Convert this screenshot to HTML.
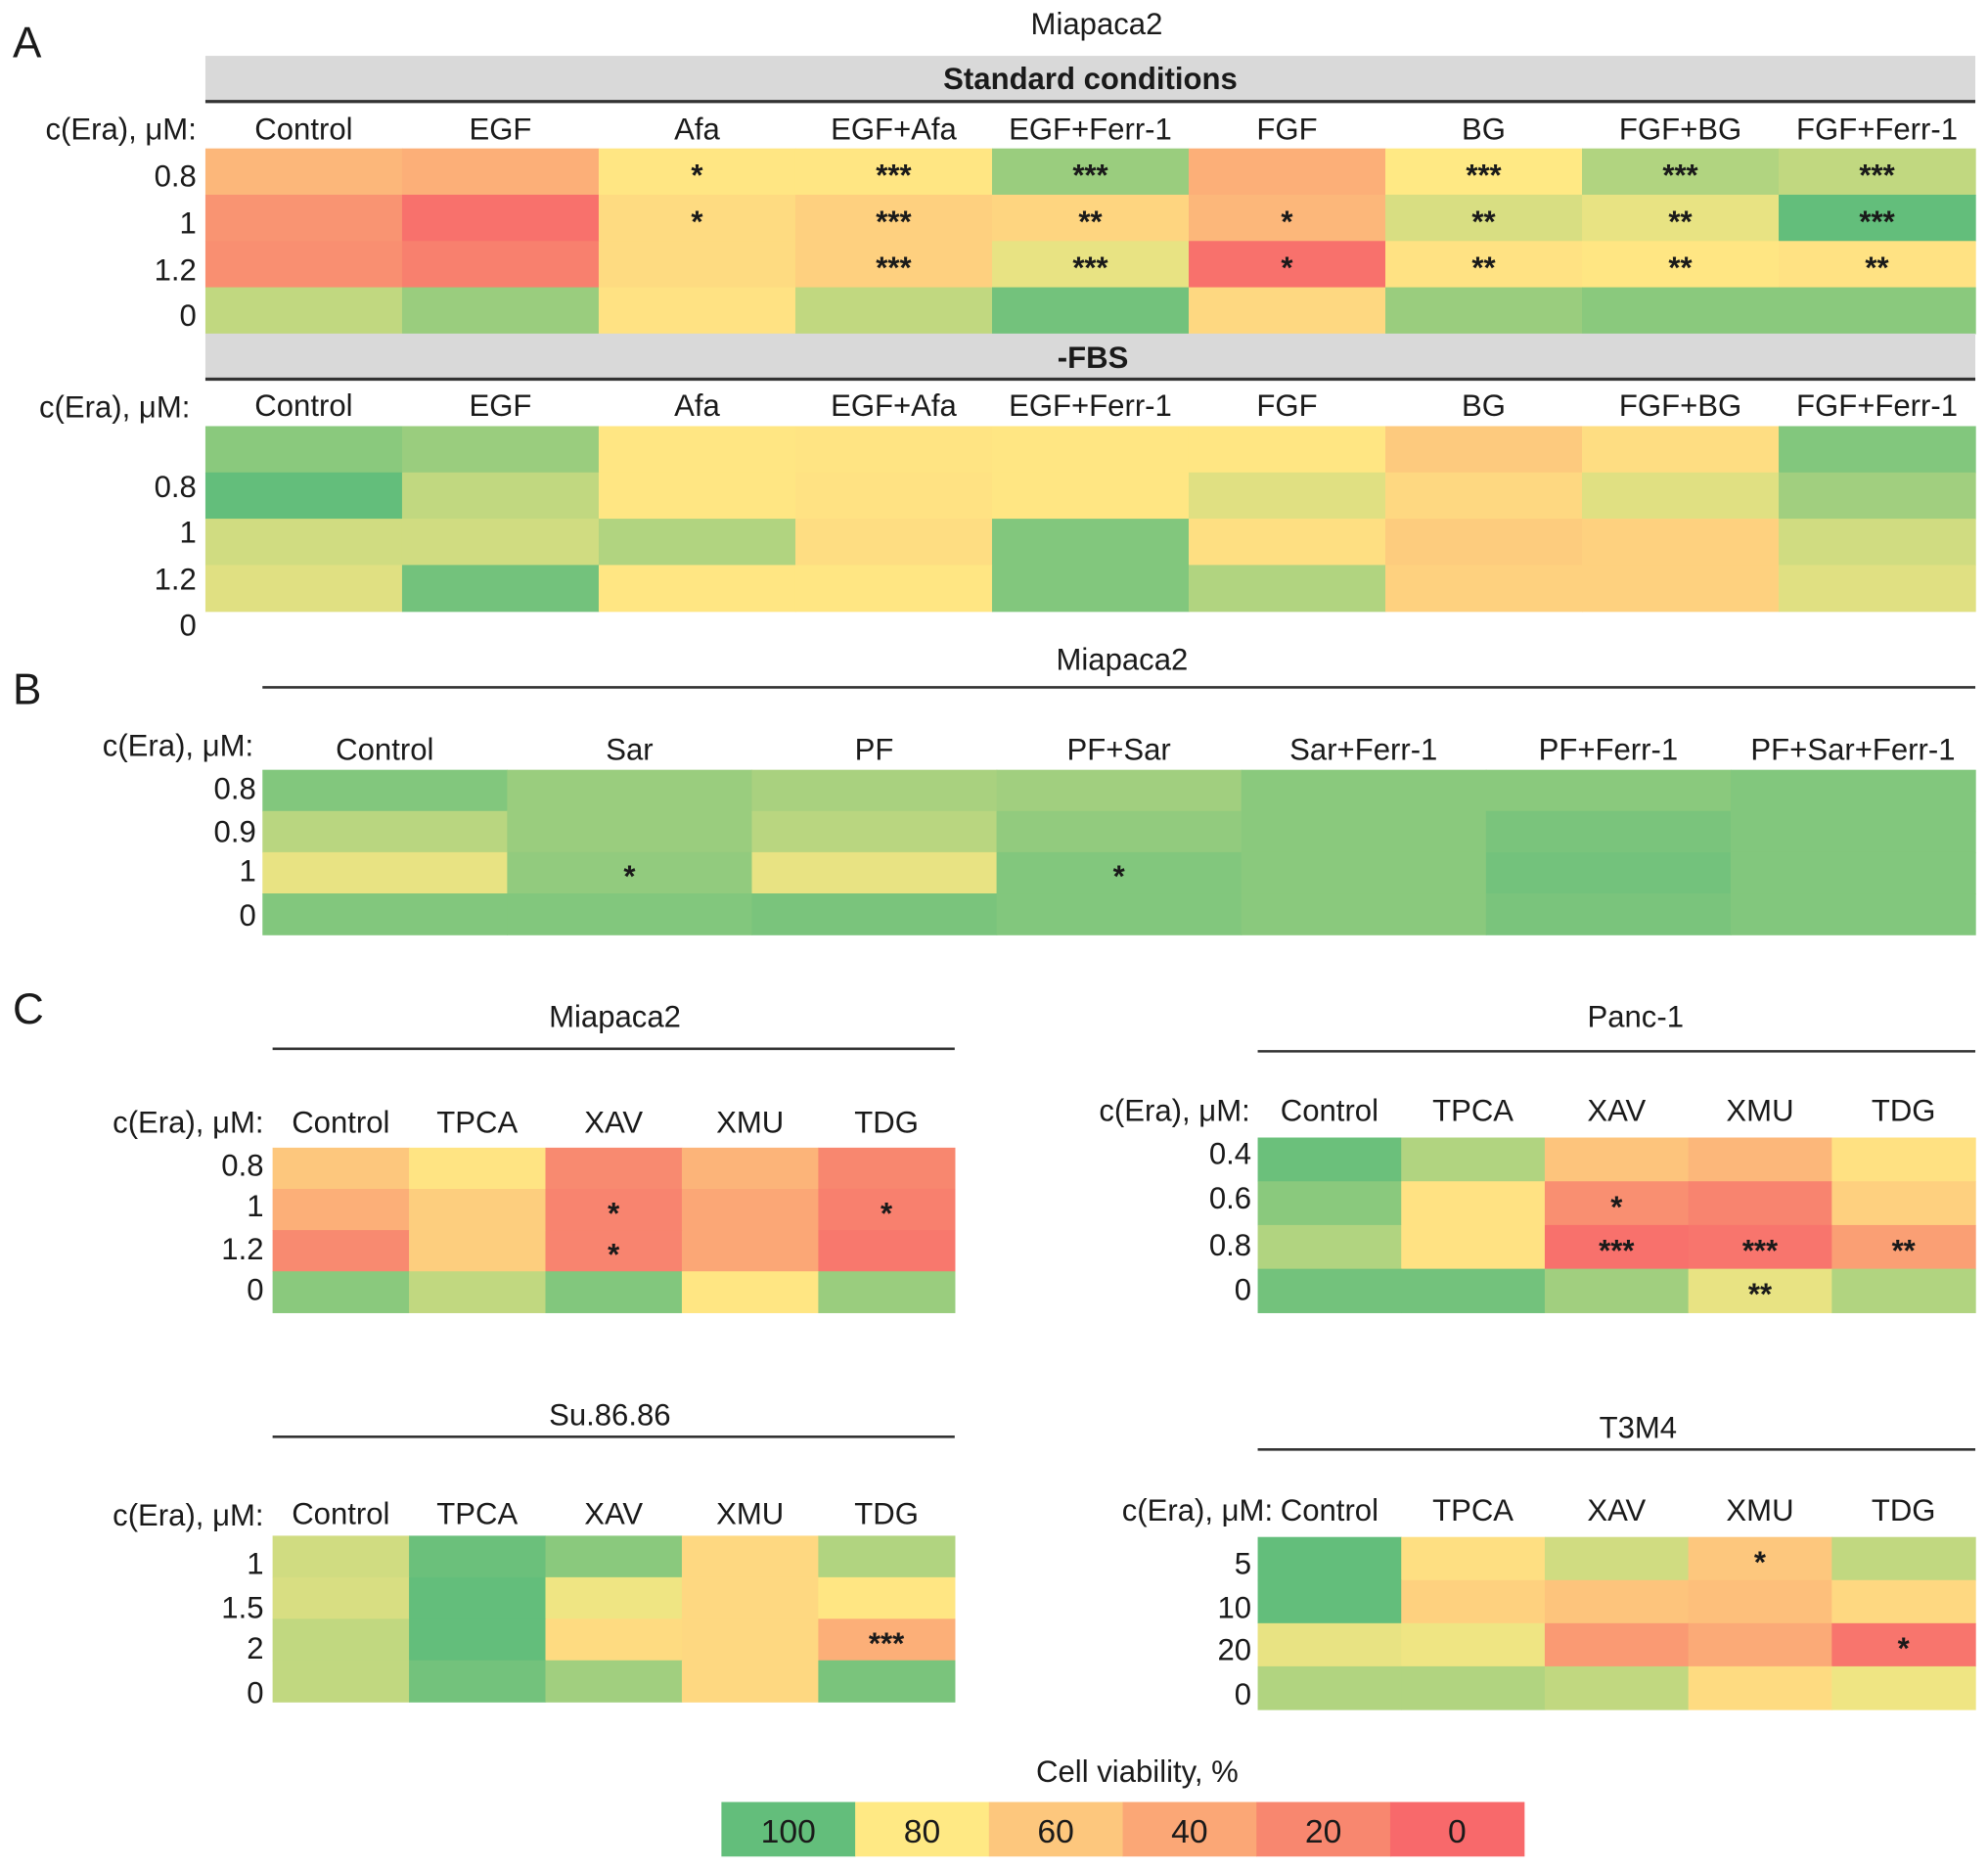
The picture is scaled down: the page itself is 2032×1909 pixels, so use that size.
<!DOCTYPE html>
<html><head><meta charset="utf-8">
<style>
html,body{margin:0;padding:0;background:#fff;}
svg{display:block;}
text{font-family:"Liberation Sans",Arial,sans-serif;fill:#1a1a1a;}
</style></head>
<body>
<svg id="fig" width="2032" height="1909" viewBox="0 0 1568 1473" xmlns="http://www.w3.org/2000/svg"></svg>
<script>
// ===== Data =====
const colsA = ["Control","EGF","Afa","EGF+Afa","EGF+Ferr-1","FGF","BG","FGF+BG","FGF+Ferr-1"];
const rowsAstd = ["0.8","1","1.2","0"];
const valsAstd = [
 [50,45,78,78,93,45,80,90,88],
 [28,5,72,65,68,50,85,83,100],
 [25,15,72,65,83,5,76,78,76],
 [88,93,76,88,98,70,93,95,95]];
const starsAstd = [
 ["","","*","***","***","","***","***","***"],
 ["","","*","***","**","*","**","**","***"],
 ["","","","***","***","*","**","**","**"],
 ["","","","","","","","",""]];
const rowsAfbs = ["","0.8","1","1.2","0"];
const valsAfbs = [
 [95,93,78,77,78,78,62,73,96],
 [100,88,78,76,78,84,70,84,92],
 [86,86,90,73,96,74,63,66,86],
 [84,98,78,78,96,90,66,66,84]];
const colsB = ["Control","Sar","PF","PF+Sar","Sar+Ferr-1","PF+Ferr-1","PF+Sar+Ferr-1"];
const rowsB = ["0.8","0.9","1","0"];
const valsB = [
 [96,93,91,92,95,95,96],
 [89,93,89,94,95,97,96],
 [83,94,83,96,95,98,96],
 [96,96,97,96,95,97,96]];
const starsB = [
 ["","","","","","",""],["","","","","","",""],
 ["","*","","*","","",""],["","","","","","",""]];
const colsC = ["Control","TPCA","XAV","XMU","TDG"];
const rowsMia = ["0.8","1","1.2","0"];
const valsMia = [[60,77,22,48,20],[45,64,18,40,15],[22,64,18,40,10],[95,88,96,78,93]];
const starsMia = [["","","","",""],["","","*","","*"],["","","*","",""],["","","","",""]];
const rowsPanc = ["0.4","0.6","0.8","0"];
const valsPanc = [[99,90,58,50,75],[95,76,25,18,65],[90,76,5,8,35],[98,98,92,83,90]];
const starsPanc = [["","","","",""],["","","*","",""],["","","***","***","**"],["","","","**",""]];
const rowsSu = ["1","1.5","2","0"];
const valsSu = [[86,99,95,70,90],[85,100,82,70,78],[88,100,72,70,45],[88,98,92,70,97]];
const starsSu = [["","","","",""],["","","","",""],["","","","","***"],["","","","",""]];
const rowsT3 = ["5","10","20","0"];
const valsT3 = [[100,74,86,60,88],[100,66,58,55,70],[83,82,32,42,8],[90,90,88,72,82]];
const starsT3 = [["","","","*",""],["","","","",""],["","","","","*"],["","","","",""]];
const legendVals = [100,80,60,40,20,0];

// ===== color scale =====
const stopV=[0,20,40,60,80,100];
const stopC=[[248,105,107],[248,135,111],[251,167,118],[253,199,125],[255,233,132],[99,190,123]];
function color(v){
  v=Math.max(0,Math.min(100,v));
  let i=Math.min(4,Math.floor(v/20));
  const t=(v-stopV[i])/20;
  const a=stopC[i],b=stopC[i+1];
  const c=a.map((x,k)=>Math.round(x+(b[k]-x)*t));
  return `rgb(${c[0]},${c[1]},${c[2]})`;
}
const NS="http://www.w3.org/2000/svg";
const svg=document.getElementById('fig');
function el(tag,attrs,txt){const e=document.createElementNS(NS,tag);for(const k in attrs)e.setAttribute(k,attrs[k]);if(txt!==undefined)e.textContent=txt;svg.appendChild(e);return e;}
function txt(x,y,s,size,anchor,name,extra){
  const t=el('text',Object.assign({x:x,y:y,'font-size':size,'text-anchor':anchor||'middle'},extra||{}),s);
  
  
  return t;
}
function line(x1,x2,y,name,w){
  const l=el('line',{x1:x1,x2:x2,y1:y,y2:y,stroke:'#333','stroke-width':w||2});
  
  
}
function heat(prefix,cols,vals,stars,x0,x1,y0,rh){
  const cw=(x1-x0)/cols.length;
  vals.forEach((row,r)=>row.forEach((v,c)=>{
    const rc=el('rect',{x:x0+c*cw,y:y0+r*rh,width:cw+0.5,height:rh+0.5,fill:color(v)});
    
    
    const s=stars?stars[r][c]:'';
    if(s){txt(x0+c*cw+cw/2,y0+r*rh+rh/2+11,s,24,'middle',prefix+'-significance',{'font-weight':'bold'});}
  }));
}
function headers(prefix,cols,x0,x1,y,size){
  const cw=(x1-x0)/cols.length;
  cols.forEach((c,i)=>txt(x0+i*cw+cw/2,y,c,size||24,'middle',prefix+'-column-label'));
}
function rowLabels(prefix,rows,x,ys){
  rows.forEach((r,i)=>{ if(r) txt(x,ys[i],r,24,'end',prefix+'-row-label'); });
}

// ===== Panel A =====
txt(10,45,"A",34,'start','panel-a-label');
txt(865,27,"Miapaca2",24,'middle','panel-a-title');
let b=el('rect',{x:162,y:44,width:1396,height:36,fill:'#d9d9d9'});


line(162,1558,80,'standard-band-line',2.5);
txt(860,70,"Standard conditions",24,'middle','standard-conditions-title',{'font-weight':'bold'});
txt(155,110,"c(Era), μM:",24,'end','panel-a-row-axis-title');
headers('panel-a-std',colsA,162,1558,110);
heat('panel-a-std',colsA,valsAstd,starsAstd,162,1558,117,36.5);
rowLabels('panel-a-std',rowsAstd,155,[147,184,221,257]);
b=el('rect',{x:162,y:263,width:1396,height:36,fill:'#d9d9d9'});


line(162,1558,299,'fbs-band-line',2.5);
txt(862,290,"-FBS",24,'middle','fbs-title',{'font-weight':'bold'});
txt(150,329,"c(Era), μM:",24,'end','panel-a-fbs-row-axis-title');
headers('panel-a-fbs',colsA,162,1558,328);
heat('panel-a-fbs',colsA,valsAfbs,null,162,1558,336,36.5);
rowLabels('panel-a-fbs',rowsAfbs,155,[0,392,428,465,501]);

// ===== Panel B =====
txt(10,555,"B",34,'start','panel-b-label');
txt(885,528,"Miapaca2",24,'middle','panel-b-title');
line(207,1558,542,'panel-b-title-line',2);
txt(200,596,"c(Era), μM:",24,'end','panel-b-row-axis-title');
headers('panel-b',colsB,207,1558,599);
heat('panel-b',colsB,valsB,starsB,207,1558,607,32.5);
rowLabels('panel-b',rowsB,202,[630,664,695,730]);

// ===== Panel C =====
txt(10,807,"C",34,'start','panel-c-label');
txt(485,810,"Miapaca2",24,'middle','miapaca2-c-title');
line(215,753,827,'miapaca2-c-line',2);
txt(208,893,"c(Era), μM:",24,'end','miapaca2-c-row-axis-title');
headers('miapaca2-c',colsC,215,753,893);
heat('miapaca2-c',colsC,valsMia,starsMia,215,753,905,32.5);
rowLabels('miapaca2-c',rowsMia,208,[927,959,993,1025]);
txt(1290,810,"Panc-1",24,'middle','panc1-title');
line(992,1558,829,'panc1-line',2);
txt(986,884,"c(Era), μM:",24,'end','panc1-row-axis-title');
headers('panc1',colsC,992,1558,884);
heat('panc1',colsC,valsPanc,starsPanc,992,1558,897,34.5);
rowLabels('panc1',rowsPanc,987,[918,953,990,1025]);
txt(481,1124,"Su.86.86",24,'middle','su8686-title');
line(215,753,1133,'su8686-line',2);
txt(208,1203,"c(Era), μM:",24,'end','su8686-row-axis-title');
headers('su8686',colsC,215,753,1202);
heat('su8686',colsC,valsSu,starsSu,215,753,1211,32.75);
rowLabels('su8686',rowsSu,208,[1241,1276,1308,1343]);
txt(1292,1134,"T3M4",24,'middle','t3m4-title');
line(992,1558,1143,'t3m4-line',2);
txt(1004,1199,"c(Era), μM:",24,'end','t3m4-row-axis-title');
headers('t3m4',colsC,992,1558,1199);
heat('t3m4',colsC,valsT3,starsT3,992,1558,1212,34);
rowLabels('t3m4',rowsT3,987,[1241,1276,1309,1344]);

// ===== Legend =====
txt(897,1405,"Cell viability, %",24,'middle','legend-title');
const lw=(1202-569)/legendVals.length;
legendVals.forEach((v,i)=>{
  const r=el('rect',{x:569+i*lw,y:1421,width:lw+0.5,height:43,fill:color(v)});
  
  
  txt(569+i*lw+lw/2,1453,String(v),26,'middle','legend-value');
});
</script>
</body></html>
